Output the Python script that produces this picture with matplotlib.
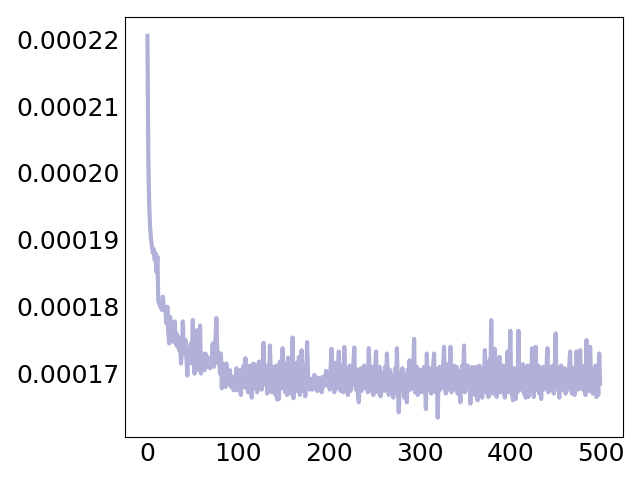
import matplotlib

matplotlib.use("Agg")

import matplotlib.pyplot as plt
import numpy as np
from matplotlib.ticker import FormatStrFormatter

# values, in units of 1e-7
loss_e7 = [
    2205, 2020, 1950, 1918, 1900, 1890, 1880, 1886, 1870, 1880, 1852, 1875, 1808, 1805, 1800, 1803, 1795, 1815, 1798, 1800,
    1790, 1775, 1800, 1760, 1745, 1785, 1755, 1748, 1765, 1750, 1778, 1745, 1760, 1740, 1755, 1735, 1745, 1715, 1735, 1778,
    1740, 1730, 1750, 1725, 1697, 1740, 1735, 1720, 1745, 1715, 1780, 1720, 1700, 1745, 1720, 1765, 1725, 1705, 1772, 1700,
    1730, 1710, 1725, 1705, 1730, 1715, 1725, 1710, 1720, 1708, 1715, 1725, 1745, 1710, 1735, 1750, 1783, 1735, 1715, 1730,
    1700, 1730, 1678, 1715, 1700, 1690, 1680, 1715, 1695, 1700, 1685, 1705, 1680, 1690, 1695, 1675, 1690, 1685, 1708, 1675,
    1690, 1675, 1705, 1668, 1698, 1680, 1712, 1685, 1723, 1678, 1706, 1672, 1700, 1712, 1680, 1664, 1702, 1715, 1678, 1700,
    1712, 1672, 1708, 1718, 1680, 1715, 1676, 1705, 1746, 1684, 1700, 1712, 1670, 1698, 1682, 1742, 1700, 1672, 1690, 1710,
    1685, 1668, 1712, 1661, 1695, 1662, 1718, 1705, 1678, 1738, 1700, 1682, 1672, 1715, 1668, 1724, 1686, 1710, 1670, 1692,
    1754, 1663, 1708, 1682, 1716, 1674, 1700, 1725, 1668, 1705, 1735, 1674, 1702, 1712, 1666, 1695, 1747, 1700, 1684, 1676,
    1692, 1680, 1676, 1690, 1698, 1678, 1688, 1674, 1694, 1682, 1678, 1692, 1672, 1695, 1680, 1686, 1696, 1704, 1682, 1698,
    1700, 1676, 1712, 1737, 1684, 1706, 1672, 1716, 1688, 1678, 1708, 1733, 1682, 1674, 1712, 1700, 1672, 1740, 1698, 1680,
    1708, 1668, 1695, 1712, 1674, 1700, 1684, 1710, 1739, 1682, 1676, 1706, 1668, 1657, 1696, 1708, 1674, 1702, 1684, 1712,
    1678, 1706, 1688, 1672, 1738, 1698, 1680, 1674, 1710, 1668, 1698, 1706, 1733, 1678, 1672, 1696, 1710, 1666, 1694, 1680,
    1702, 1674, 1710, 1678, 1730, 1686, 1668, 1706, 1674, 1698, 1680, 1664, 1696, 1708, 1672, 1738, 1684, 1642, 1676, 1702,
    1678, 1708, 1684, 1664, 1698, 1672, 1657, 1706, 1682, 1720, 1676, 1708, 1684, 1700, 1752, 1672, 1694, 1710, 1668, 1696,
    1684, 1706, 1672, 1700, 1678, 1710, 1682, 1647, 1730, 1684, 1676, 1708, 1686, 1670, 1702, 1712, 1730, 1680, 1672, 1706,
    1634, 1696, 1710, 1676, 1702, 1684, 1712, 1740, 1680, 1670, 1702, 1714, 1676, 1690, 1740, 1672, 1704, 1682, 1712, 1676,
    1696, 1710, 1670, 1704, 1678, 1657, 1698, 1712, 1684, 1742, 1672, 1704, 1680, 1712, 1676, 1696, 1655, 1694, 1710, 1672,
    1698, 1668, 1710, 1678, 1660, 1702, 1712, 1672, 1696, 1664, 1708, 1684, 1735, 1672, 1700, 1714, 1665, 1720, 1684, 1780,
    1682, 1670, 1712, 1737, 1680, 1665, 1708, 1684, 1725, 1672, 1702, 1684, 1712, 1676, 1664, 1708, 1682, 1733, 1672, 1700,
    1764, 1682, 1670, 1660, 1708, 1680, 1662, 1702, 1672, 1764, 1684, 1712, 1676, 1698, 1714, 1670, 1704, 1664, 1696, 1712,
    1665, 1696, 1712, 1672, 1738, 1684, 1665, 1706, 1740, 1676, 1698, 1712, 1670, 1702, 1662, 1696, 1710, 1676, 1698, 1706,
    1712, 1738, 1672, 1696, 1710, 1676, 1698, 1712, 1670, 1702, 1760, 1682, 1676, 1708, 1664, 1696, 1712, 1676, 1704, 1682,
    1708, 1670, 1702, 1684, 1676, 1710, 1733, 1682, 1670, 1708, 1700, 1668, 1696, 1733, 1710, 1676, 1684, 1735, 1682, 1706,
    1676, 1698, 1712, 1668, 1750, 1680, 1708, 1674, 1740, 1684, 1706, 1670, 1702, 1684, 1712, 1665, 1696, 1668, 1730, 1685,
]
y_ticks = [0.00017, 0.00018, 0.00019, 0.00020, 0.00021, 0.00022]
x_ticks = [0, 100, 200, 300, 400, 500]

loss = np.array(loss_e7) * 1e-7
steps = np.arange(len(loss))

fig, ax = plt.subplots(figsize=(6.4, 4.8), dpi=100)
ax.plot(steps, loss, color="#b0b0d8", linewidth=3)

ax.set_xticks(x_ticks)
ax.set_yticks(y_ticks)
ax.yaxis.set_major_formatter(FormatStrFormatter("%.5f"))
ax.tick_params(axis="both", length=0, labelsize=18)

fig.subplots_adjust(left=0.195, right=0.973, bottom=0.09, top=0.965)
fig.savefig("out.png", dpi=100, facecolor="white")
plt.close(fig)
